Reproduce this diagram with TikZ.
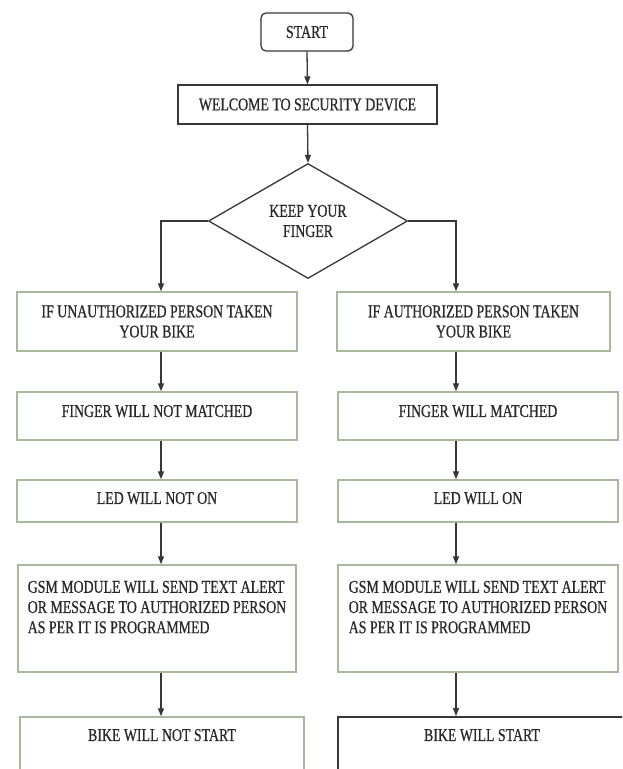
\documentclass[tikz,border=0pt]{standalone}
\usepackage{fontspec}
\setmainfont{Liberation Serif}[FakeStretch=0.77,FakeBold=0.6]
\usetikzlibrary{shapes.geometric,arrows.meta}
\definecolor{gbord}{RGB}{168,184,156}
\definecolor{dbord}{RGB}{55,55,55}
\definecolor{txt}{RGB}{40,40,40}
\begin{document}
\begin{tikzpicture}[x=1pt,y=-1pt,
  every node/.style={font=\fontsize{18}{20.2}\selectfont, text=txt},
  topbox/.style={draw=dbord, line width=1.3pt, inner sep=0pt},
  colbox/.style={draw=gbord, line width=1.4pt, inner sep=0pt, minimum width=280pt},
  endbox/.style={draw=dbord, line width=2pt, inner sep=0pt},
  arr/.style={draw=dbord, line width=1.3pt, -{Triangle[length=8pt,width=6pt]}}]
\fill[white] (0,0) rectangle (622,769);
\useasboundingbox (0,0) rectangle (622,769);
\clip (0,0) rectangle (622,769);
\coordinate (cl) at (161,0);
\coordinate (cr) at (456,0);
\node[topbox, rounded corners=5pt, minimum width=92pt, minimum height=38pt] (start) at (307,32) {START};
\node[topbox, minimum width=259pt, minimum height=39pt] (welcome) at (307.5,104.5) {WELCOME TO SECURITY DEVICE};
\node[topbox, diamond, minimum width=199pt, minimum height=115pt, aspect=1.73, align=center] (keep) at (308,221) {KEEP YOUR\\FINGER};
\node[colbox, minimum height=59pt, align=center] (l1) at (157,321.5) {IF UNAUTHORIZED PERSON TAKEN\\YOUR BIKE};
\node[colbox, minimum width=273pt, minimum height=59pt, align=center] (r1) at (473.5,321.5) {IF AUTHORIZED PERSON TAKEN\\YOUR BIKE};
\node[colbox, minimum height=48pt, text depth=10pt] (l2) at (157,416) {FINGER WILL NOT MATCHED};
\node[colbox, minimum height=48pt, text depth=10pt] (r2) at (478,416) {FINGER WILL MATCHED};
\node[colbox, minimum height=42pt, text depth=6pt] (l3) at (157,501) {LED WILL NOT ON};
\node[colbox, minimum height=42pt, text depth=6pt] (r3) at (478,501) {LED WILL ON};
\node[colbox, minimum width=278pt, minimum height=107pt, align=left, text depth=23pt] (l4) at (157,618.5) {GSM MODULE WILL SEND TEXT ALERT\\OR MESSAGE TO AUTHORIZED PERSON\\AS PER IT IS PROGRAMMED};
\node[colbox, minimum height=107pt, align=left, text depth=23pt] (r4) at (478,618.5) {GSM MODULE WILL SEND TEXT ALERT\\OR MESSAGE TO AUTHORIZED PERSON\\AS PER IT IS PROGRAMMED};
\node[colbox, minimum width=284pt, minimum height=63pt, text depth=27pt] (l5) at (162,748.5) {BIKE WILL NOT START};
\node[endbox, minimum width=288pt, minimum height=63pt, text depth=27pt] (r5) at (482,748.5) {BIKE WILL START};
\draw[arr] (start.south) -- (welcome.north);
\draw[arr] (welcome.south) -- (keep.north);
\draw[arr] (keep.west) -| (l1.north -| cl);
\draw[arr] (keep.east) -| (r1.north -| cr);
\draw[arr] (l1.south -| cl) -- (l2.north -| cl);
\draw[arr] (l2.south -| cl) -- (l3.north -| cl);
\draw[arr] (l3.south -| cl) -- (l4.north -| cl);
\draw[arr] (l4.south -| cl) -- (l5.north -| cl);
\draw[arr] (r1.south -| cr) -- (r2.north -| cr);
\draw[arr] (r2.south -| cr) -- (r3.north -| cr);
\draw[arr] (r3.south -| cr) -- (r4.north -| cr);
\draw[arr] (r4.south -| cr) -- (r5.north -| cr);
\end{tikzpicture}
\end{document}
